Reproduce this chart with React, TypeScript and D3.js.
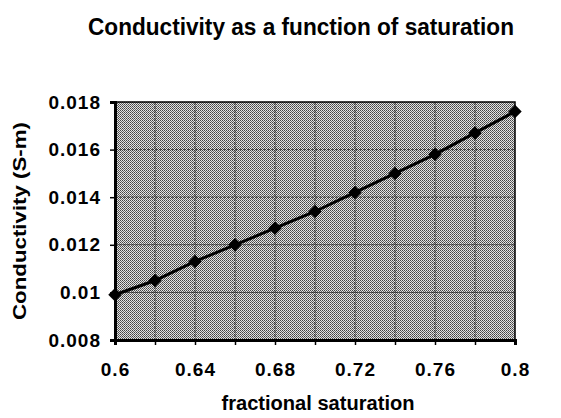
import { useEffect, useRef } from 'react'
import * as d3 from 'd3'

const SATURATION = [0.6, 0.62, 0.64, 0.66, 0.68, 0.7, 0.72, 0.74, 0.76, 0.78, 0.8]
const CONDUCTIVITY = [0.0099, 0.0105, 0.0113, 0.012, 0.0127, 0.0134, 0.0142, 0.015, 0.0158, 0.0167, 0.0176]
const X_TICKS = [0.6, 0.62, 0.64, 0.66, 0.68, 0.7, 0.72, 0.74, 0.76, 0.78, 0.8]
const X_LABELS = [0.6, 0.64, 0.68, 0.72, 0.76, 0.8]
const Y_TICKS = [0.008, 0.01, 0.012, 0.014, 0.016, 0.018]

export default function App() {
  const svgRef = useRef<SVGSVGElement>(null)

  useEffect(() => {
    if (!svgRef.current) return
    const W = 561, H = 418
    const svg = d3.select(svgRef.current)
    svg.selectAll('*').remove()
    const font = 'Arial, "Liberation Sans", sans-serif'

    const left = 115, right = 515, top = 102, bottom = 340
    const x = d3.scaleLinear().domain([0.6, 0.8]).range([left, right])
    const y = d3.scaleLinear().domain([0.008, 0.018]).range([bottom, top])

    // dithered grey plot background
    const defs = svg.append('defs')
    const pat = defs.append('pattern').attr('id', 'dither')
      .attr('width', 2).attr('height', 2).attr('patternUnits', 'userSpaceOnUse')
    pat.append('rect').attr('width', 2).attr('height', 2).attr('fill', '#e4e4e4')
    pat.append('rect').attr('width', 1).attr('height', 1).attr('fill', '#444')
    pat.append('rect').attr('x', 1).attr('y', 1).attr('width', 1).attr('height', 1).attr('fill', '#666')

    svg.append('rect').attr('x', left).attr('y', top)
      .attr('width', right - left).attr('height', bottom - top)
      .attr('fill', 'url(#dither)')

    // gridlines
    const grid = svg.append('g').attr('stroke', '#111').attr('stroke-width', 1).attr('stroke-dasharray', '3,1').attr('opacity', 0.7)
    Y_TICKS.slice(1, -1).forEach(v => {
      grid.append('line').attr('x1', left).attr('x2', right).attr('y1', y(v)).attr('y2', y(v))
    })
    X_TICKS.slice(1, -1).forEach(v => {
      grid.append('line').attr('x1', x(v)).attr('x2', x(v)).attr('y1', top).attr('y2', bottom)
    })

    // border
    svg.append('rect').attr('x', left).attr('y', top)
      .attr('width', right - left).attr('height', bottom - top)
      .attr('fill', 'none').attr('stroke', '#000').attr('stroke-width', 1.5)

    // axes
    const yAxis = d3.axisLeft(y).tickValues(Y_TICKS).tickSize(5).tickPadding(9)
      .tickFormat(d => String(+(+d).toFixed(3)))
    const gy = svg.append('g').attr('transform', `translate(${left},0)`).call(yAxis)
    gy.select('.domain').attr('stroke', '#000').attr('stroke-width', 3)
    gy.selectAll('.tick line').attr('stroke', '#000').attr('stroke-width', 1.5)
    gy.selectAll('.tick text').attr('font-family', font).attr('font-size', 19)
      .attr('letter-spacing', 1).attr('font-weight', 'bold').attr('fill', '#000')

    const xAxis = d3.axisBottom(x).tickValues(X_TICKS).tickSize(5).tickPadding(18)
      .tickFormat(d => (X_LABELS.some(l => Math.abs(l - +d) < 1e-9) ? String(+(+d).toFixed(2)) : ''))
    const gx = svg.append('g').attr('transform', `translate(0,${bottom})`).call(xAxis)
    gx.select('.domain').attr('stroke', '#000').attr('stroke-width', 3)
    gx.selectAll('.tick line').attr('stroke', '#000').attr('stroke-width', 1.5)
    gx.selectAll('.tick text').attr('font-family', font).attr('font-size', 19)
      .attr('letter-spacing', 1).attr('font-weight', 'bold').attr('fill', '#000')

    // series
    const pts = SATURATION.map((s, i) => [s, CONDUCTIVITY[i]] as [number, number])
    const line = d3.line<[number, number]>().x(d => x(d[0])).y(d => y(d[1]))
    svg.append('path').attr('d', line(pts) ?? '').attr('fill', 'none')
      .attr('stroke', '#000').attr('stroke-width', 3)
    const diamond = d3.symbol().type(d3.symbolDiamond2).size(115)
    svg.append('g').selectAll('path').data(pts).join('path')
      .attr('transform', d => `translate(${x(d[0])},${y(d[1])})`)
      .attr('d', diamond() ?? '').attr('fill', '#000')

    // titles
    svg.append('text').attr('x', 301).attr('y', 35).attr('text-anchor', 'middle')
      .attr('font-family', font).attr('font-size', 23).attr('font-weight', 'bold')
      .attr('textLength', 426).attr('lengthAdjust', 'spacingAndGlyphs')
      .text('Conductivity as a function of saturation')
    svg.append('text').attr('x', 318).attr('y', 410).attr('text-anchor', 'middle')
      .attr('font-family', font).attr('font-size', 20).attr('font-weight', 'bold')
      .attr('textLength', 193).attr('lengthAdjust', 'spacingAndGlyphs')
      .text('fractional saturation')
    svg.append('text').attr('transform', `translate(26,221) rotate(-90)`)
      .attr('text-anchor', 'middle')
      .attr('font-family', font).attr('font-size', 19).attr('font-weight', 'bold')
      .attr('textLength', 198).attr('lengthAdjust', 'spacingAndGlyphs')
      .text('Conductivity (S-m)')

    svg.attr('viewBox', `0 0 ${W} ${H}`)
  }, [])

  return (
    <svg ref={svgRef} width={561} height={418}
      style={{ position: 'absolute', left: 0, top: 0, background: '#fff' }} />
  )
}
